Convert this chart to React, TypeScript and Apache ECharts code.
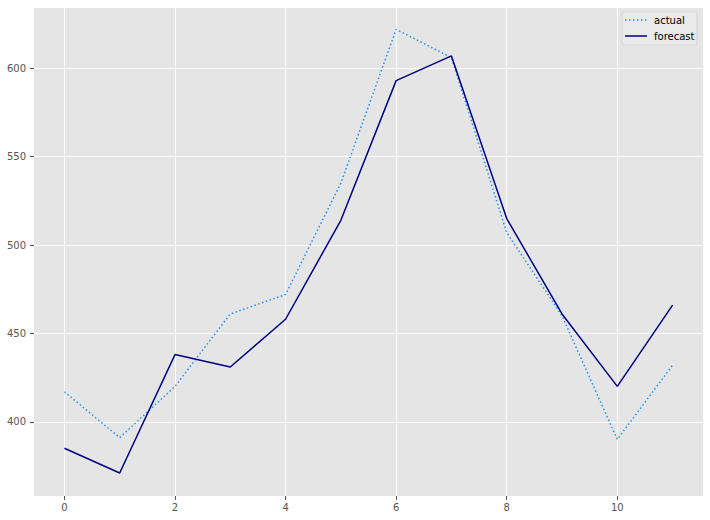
import React, { useEffect, useRef } from "react";
import * as echarts from "echarts";

const xValues = [0, 1, 2, 3, 4, 5, 6, 7, 8, 9, 10, 11];
const actual = [417, 391, 420, 461, 472, 535, 622, 606, 507, 460, 390, 432];
const forecast = [385, 371, 438, 431, 458, 514, 593, 607, 515, 461, 420, 466];
const xTicks = [0, 2, 4, 6, 8, 10];
const yTicks = [400, 450, 500, 550, 600];
const seriesNames = ["actual", "forecast"];

export default function App() {
  const ref = useRef<HTMLDivElement>(null);
  useEffect(() => {
    document.body.style.margin = "0";
    const chart = echarts.init(ref.current!, null, { renderer: "svg" });
    const font = "DejaVu Sans";
    const axisCommon = {
      axisLine: { show: false, onZero: false },
      axisTick: { show: true, length: 4, lineStyle: { color: "#555555", width: 1 } },
      splitLine: { show: true, lineStyle: { color: "#ffffff", width: 1 } },
    };
    chart.setOption({
      animation: false,
      backgroundColor: "#ffffff",
      grid: { left: 34, top: 8, right: 7, bottom: 24, backgroundColor: "#E5E5E5", show: true, borderWidth: 0 },
      xAxis: {
        type: "value",
        min: -0.55,
        max: 11.55,
        ...axisCommon,
        axisTick: { ...axisCommon.axisTick, customValues: xTicks },
        axisLabel: { customValues: xTicks, color: "#555555", fontFamily: font, fontSize: 10, margin: 6 },
      },
      yAxis: {
        type: "value",
        min: 358,
        max: 634.1,
        ...axisCommon,
        axisTick: { ...axisCommon.axisTick, customValues: yTicks },
        axisLabel: { customValues: yTicks, color: "#555555", fontFamily: font, fontSize: 10, margin: 8 },
      },
      series: [
        {
          name: seriesNames[0],
          type: "line",
          data: xValues.map((x, i) => [x, actual[i]]),
          showSymbol: false,
          symbol: "none",
          lineStyle: { color: "#1E90FF", width: 1.5, type: [1.5, 2.5] },
          z: 3,
        },
        {
          name: seriesNames[1],
          type: "line",
          data: xValues.map((x, i) => [x, forecast[i]]),
          showSymbol: false,
          symbol: "none",
          lineStyle: { color: "#000080", width: 1.5 },
          z: 3,
        },
      ],
      graphic: [
        {
          type: "rect",
          shape: { x: 622, y: 12, width: 75, height: 33, r: 2 },
          style: { fill: "rgba(255,255,255,0.2)", stroke: "#D4D4D4", lineWidth: 1 },
          z: 10,
        },
        {
          type: "line",
          shape: { x1: 625, y1: 20, x2: 647, y2: 20 },
          style: { stroke: "#1E90FF", lineWidth: 1.5, lineDash: [1.5, 2.5] },
          z: 11,
        },
        {
          type: "line",
          shape: { x1: 625, y1: 36, x2: 647, y2: 36 },
          style: { stroke: "#000080", lineWidth: 1.5 },
          z: 11,
        },
        {
          type: "text",
          x: 654,
          y: 20,
          style: { text: seriesNames[0], fill: "#000000", font: `10px ${font}`, verticalAlign: "middle" },
          z: 11,
        },
        {
          type: "text",
          x: 654,
          y: 36,
          style: { text: seriesNames[1], fill: "#000000", font: `10px ${font}`, verticalAlign: "middle" },
          z: 11,
        },
      ],
    });
    return () => chart.dispose();
  }, []);
  return <div ref={ref} style={{ width: 710, height: 520 }} />;
}
